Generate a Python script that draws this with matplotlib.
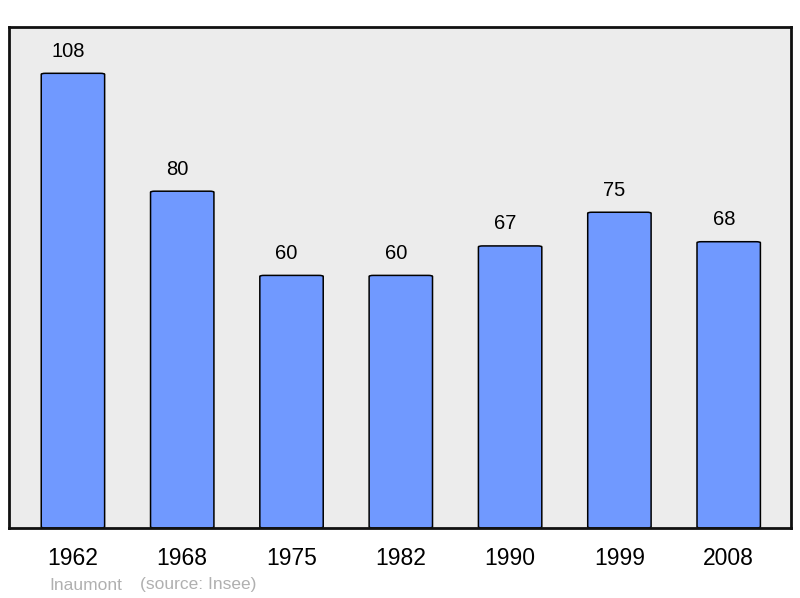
import matplotlib.pyplot as plt
from matplotlib.patches import FancyBboxPatch

plt.rcParams['font.family'] = ['Liberation Sans', 'DejaVu Sans']

years = ['1962', '1968', '1975', '1982', '1990', '1999', '2008']
population = [108, 80, 60, 60, 67, 75, 68]
commune = 'Inaumont'
source = '(source: Insee)'

fig = plt.figure(figsize=(8, 5.98), dpi=100)
ax = fig.add_axes([9 / 800, 70 / 598, 782 / 800, 501 / 598])
ax.set_facecolor('#ececec')

x = range(len(years))
bars = ax.bar(x, population, width=0.58, color='#7099ff', edgecolor='black', linewidth=1.1)
for b in bars:
    # slightly rounded corners like the original
    b.set_visible(False)
    fb = FancyBboxPatch((b.get_x(), 0), b.get_width(), b.get_height(),
                        boxstyle='round,pad=0,rounding_size=0.04',
                        mutation_aspect=6,
                        facecolor='#7099ff', edgecolor='black', linewidth=1.1)
    ax.add_patch(fb)

# labels sit a little left of the bar centre in the original
for i, v in enumerate(population):
    ax.annotate(str(v), (i, v), xytext=(-3.5, 9), textcoords='offset points',
                ha='center', va='bottom', fontsize=14.5)

ax.set_xlim(-0.585, 6.57)
ax.set_ylim(0, 119)
ax.set_yticks([])
ax.set_xticks(list(x))
ax.set_xticklabels(years, fontsize=16.5)
ax.tick_params(axis='x', length=0, pad=14)
for s in ax.spines.values():
    s.set_linewidth(2)
    s.set_color('#111111')

fig.text(49 / 800, 1 - 585 / 598, commune, color='#b0b0b0', fontsize=12.5, va='center')
fig.text(140 / 800, 1 - 585 / 598, source, color='#b0b0b0', fontsize=12.5, va='center')

fig.savefig('out.png', dpi=100)
